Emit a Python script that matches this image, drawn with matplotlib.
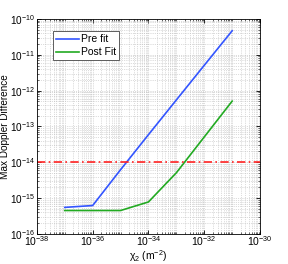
import matplotlib
matplotlib.use("Agg")
import matplotlib.pyplot as plt
from matplotlib.ticker import LogLocator, NullFormatter

plt.rcParams['font.family'] = ['Liberation Sans', 'DejaVu Sans']
plt.rcParams['mathtext.fontset'] = 'custom'
plt.rcParams['mathtext.rm'] = 'Liberation Sans'
plt.rcParams['mathtext.it'] = 'Liberation Sans'
plt.rcParams['mathtext.bf'] = 'Liberation Sans:bold'

chi2 = [1e-37, 1e-36, 1e-35, 1e-34, 1e-33, 1e-32, 1e-31]
pre_fit = [5.5e-16, 6.2e-16, 6.2e-15, 5.9e-14, 5.5e-13, 5.1e-12, 4.7e-11]
post_fit = [4.5e-16, 4.5e-16, 4.5e-16, 7.8e-16, 5.1e-15, 5.1e-14, 5.1e-13]
limit = 1e-14

fig = plt.figure(figsize=(2.88, 2.64), dpi=100)
ax = fig.add_axes([0.128, 0.114, 0.775, 0.814])

ax.loglog(chi2, pre_fit, color='#3355ff', lw=1.2, label='Pre fit')
ax.loglog(chi2, post_fit, color='#22aa22', lw=1.2, label='Post Fit')
ax.axhline(limit, color='#ff2222', lw=1.2, ls=(0, (5, 2, 1, 2)))

ax.set_xlim(1e-38, 1e-30)
ax.set_ylim(1e-16, 1e-10)
ax.set_xticks([1e-38, 1e-36, 1e-34, 1e-32, 1e-30])
ax.set_yticks([1e-16, 1e-15, 1e-14, 1e-13, 1e-12, 1e-11, 1e-10])
ax.xaxis.set_minor_locator(LogLocator(base=10, subs=range(1, 10), numticks=50))
ax.yaxis.set_minor_locator(LogLocator(base=10, subs=range(1, 10), numticks=50))
ax.xaxis.set_minor_formatter(NullFormatter())
ax.yaxis.set_minor_formatter(NullFormatter())
ax.tick_params(which='both', direction='in', top=True, right=True, labelsize=7.5)
ax.tick_params(which='major', length=3, width=0.6, pad=2)
ax.tick_params(axis='x', which='major', pad=0.5)
ax.tick_params(axis='y', which='major', labelsize=7.2, pad=1.5)
ax.tick_params(which='minor', length=1.5, width=0.4)
ax.grid(True, which='both', ls=':', lw=0.5, color='#bbbbbb')
for s in ax.spines.values():
    s.set_linewidth(0.6)

ax.set_xlabel(r'$\chi_2$ (m$^{-2}$)', fontsize=7.5)
ax.set_ylabel('Max Doppler Difference', fontsize=7.2)
ax.xaxis.set_label_coords(0.5, -0.065)
ax.yaxis.set_label_coords(-0.12, 0.5)

leg = ax.legend(loc='upper left', bbox_to_anchor=(0.072, 0.944), borderaxespad=0,
                fontsize=7.5, fancybox=False, framealpha=1, handlelength=2.2,
                handletextpad=0.2, borderpad=0.3, labelspacing=0.3)
leg.get_frame().set_edgecolor('#444444')
leg.get_frame().set_linewidth(0.6)

fig.savefig('out.png', dpi=100)
